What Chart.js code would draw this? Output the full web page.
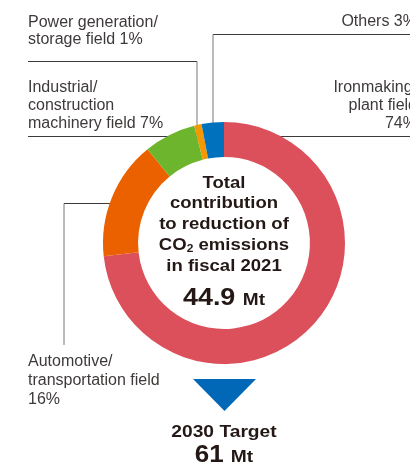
<!DOCTYPE html>
<html>
<head>
<meta charset="utf-8">
<script src="https://cdn.jsdelivr.net/npm/chart.js@4"></script>
<style>
  html, body { margin: 0; padding: 0; background: #fff; }
  #wrap { position: relative; width: 410px; height: 467px; overflow: hidden; }
  #chart { position: absolute; left: 0; top: 0; }
  .lbl { position: absolute; font-family: "Liberation Sans", Arial, sans-serif; font-size: 16px; color: #3e3a39; white-space: nowrap; }
  .ctr { position: absolute; left: 124px; width: 200px; text-align: center; font-family: "Liberation Sans", Arial, sans-serif; font-weight: bold; color: #231815; white-space: nowrap; transform-origin: 100px 0; }
  sub { font-size: 11px; vertical-align: -2px; line-height: 0; }
</style>
</head>
<body>
<div id="wrap">
  <canvas id="chart" width="410" height="467"></canvas>

  <div class="lbl" style="left:28px; top:12.5px; line-height:17px;">Power generation/<br>storage field 1%</div>
  <div class="lbl" style="left:213px; top:11.5px; width:204px; text-align:right; line-height:17px;">Others 3%</div>
  <div class="lbl" style="left:28px; top:78px; line-height:18px;">Industrial/<br>construction<br>machinery field 7%</div>
  <div class="lbl" style="left:217px; top:78px; width:200px; text-align:right; line-height:18px;">Ironmaking/<br>plant field<br>74%</div>
  <div class="lbl" style="left:28px; top:350.5px; line-height:19px;">Automotive/<br>transportation field<br>16%</div>

  <div class="ctr" style="top:172.7px; font-size:17px; line-height:20.8px; transform:scaleX(1.09);">Total<br>contribution<br>to reduction of<br>CO<sub>2</sub> emissions<br>in fiscal 2021</div>
  <div class="ctr" style="top:282.7px; font-size:24px; line-height:28px; transform:scaleX(1.12);">44.9 <span style="font-size:17px;">Mt</span></div>
  <div class="ctr" style="top:422px; font-size:17px; line-height:20px; transform:scaleX(1.13);">2030 Target</div>
  <div class="ctr" style="top:441px; font-size:23px; line-height:26px; transform:scaleX(1.13);">61 <span style="font-size:17px;">Mt</span></div>
</div>

<script>
// reduction contribution by field, fiscal 2021 (%)
const sectors = ['Ironmaking/plant field', 'Automotive/transportation field', 'Industrial/construction machinery field', 'Power generation/storage field', 'Others'];
const shares = [74, 16, 7, 1, 3];
const sectorColors = ['#dc505c', '#eb6100', '#6db52d', '#f39800', '#0071bc'];

// leader lines and target arrow, drawn under the ring
const decorations = {
    id: 'decorations',
    beforeDatasetsDraw(chart) {
        const c = chart.ctx;
        c.save();
        c.lineWidth = 1;
        c.strokeStyle = '#3e3a39';
        c.beginPath();
        // horizontals
        c.moveTo(28, 61.5); c.lineTo(197, 61.5);
        c.moveTo(213, 34.5); c.lineTo(410, 34.5);
        c.moveTo(28, 136.5); c.lineTo(170, 136.5);
        c.moveTo(270, 136.5); c.lineTo(410, 136.5);
        c.moveTo(64, 203.5); c.lineTo(120, 203.5);
        c.stroke();
        c.strokeStyle = '#777';
        c.beginPath();
        // verticals
        c.moveTo(197, 61.5); c.lineTo(197, 140);
        c.moveTo(213, 34.5); c.lineTo(213, 140);
        c.moveTo(64, 203.5); c.lineTo(64, 345);
        c.stroke();

        c.fillStyle = '#0068b7';
        c.beginPath();
        c.moveTo(193, 379); c.lineTo(256, 379); c.lineTo(224.5, 411);
        c.closePath();
        c.fill();
        c.restore();
    }
};

new Chart(document.getElementById('chart'), {
    type: 'doughnut',
    data: {
        labels: sectors,
        datasets: [{
            data: shares,
            backgroundColor: sectorColors,
            borderWidth: 0
        }]
    },
    options: {
        responsive: false,
        animation: false,
        cutout: '71%',
        layout: { padding: { left: 103, right: 65, top: 122, bottom: 103 } },
        plugins: {
            legend: { display: false },
            tooltip: { enabled: false }
        }
    },
    plugins: [decorations]
});
</script>
</body>
</html>
